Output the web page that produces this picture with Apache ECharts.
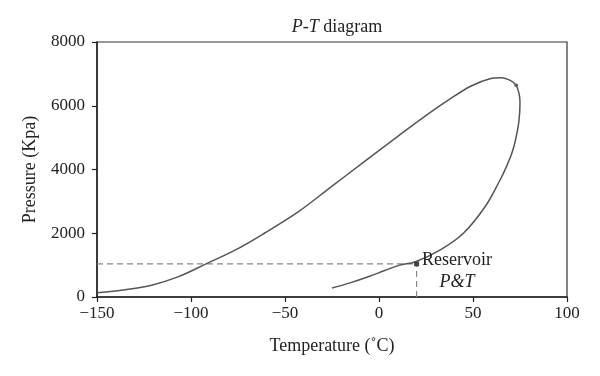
<!DOCTYPE html>
<html>
<head>
<meta charset="utf-8">
<script src="https://cdn.jsdelivr.net/npm/echarts@6/dist/echarts.min.js"></script>
<style>
  html, body { margin: 0; padding: 0; background: #fff; }
  #chart { width: 600px; height: 376px; }
</style>
</head>
<body>
<div id="chart"></div>
<script>
// bubble point branch (from low T up to the critical point)
var bubbleT = [-150, -135, -121, -107, -92, -75, -61, -43, -26, -8, 10, 24, 38, 49, 59, 65, 70, 73];
var bubbleP = [130, 230, 370, 630, 1040, 1520, 2000, 2670, 3430, 4240, 5040, 5650, 6220, 6620, 6850, 6880, 6790, 6640];
// dew point branch (from the critical point down)
var dewT = [73, 74.6, 75, 74.4, 72.5, 70.6, 67.5, 64.4, 56.4, 44.9, 32.4, 19.1, 11, 3, -5, -15, -25];
var dewP = [6640, 6350, 6100, 5500, 4900, 4500, 4050, 3670, 2830, 2000, 1470, 1100, 1000, 830, 650, 450, 280];
var criticalPoint = [73, 6640];
var reservoir = [20, 1040];
var xTicks = [-150, -100, -50, 0, 50, 100];
var yTicks = [0, 2000, 4000, 6000, 8000];

var font = 'Liberation Serif';
var chartDom = document.getElementById('chart');
var chart = echarts.init(chartDom);

function pairs(xs, ys) {
    var out = [];
    for (var i = 0; i < xs.length; i++) {
        out.push([xs[i], ys[i]]);
    }
    return out;
}

var envelope = pairs(bubbleT, bubbleP).concat(pairs(dewT, dewP).slice(1));

var option = {
    animation: false,
    title: {
        text: '{i|P-T} diagram',
        left: 332,
        textAlign: 'center',
        top: 13,
        textStyle: {
            fontFamily: font,
            fontSize: 18,
            fontWeight: 'normal',
            color: '#222',
            rich: {
                i: { fontFamily: font, fontSize: 18, fontStyle: 'italic', color: '#222' }
            }
        }
    },
    grid: {
        left: 97,
        right: 33,
        top: 42,
        bottom: 79,
        show: true,
        borderColor: '#333',
        borderWidth: 1.2
    },
    xAxis: {
        type: 'value',
        min: xTicks[0],
        max: xTicks[xTicks.length - 1],
        interval: 50,
        name: 'Temperature (˚C)',
        nameLocation: 'middle',
        nameGap: 40,
        nameTextStyle: { fontFamily: font, fontSize: 18, color: '#222' },
        axisLine: { onZero: false, lineStyle: { color: '#222', width: 1.5 } },
        axisTick: { show: true, length: 5, lineStyle: { color: '#222', width: 1.2 } },
        axisLabel: {
            fontFamily: font, fontSize: 17, color: '#222', margin: 8,
            formatter: function (v) { return v < 0 ? '\u2212' + Math.abs(v) : String(v); }
        },
        splitLine: { show: false }
    },
    yAxis: {
        type: 'value',
        min: yTicks[0],
        max: yTicks[yTicks.length - 1],
        interval: 2000,
        name: 'Pressure (Kpa)',
        nameLocation: 'middle',
        nameGap: 58,
        nameTextStyle: { fontFamily: font, fontSize: 18, color: '#222' },
        axisLine: { show: true, onZero: false, lineStyle: { color: '#222', width: 1.5 } },
        axisTick: { show: true, length: 5, lineStyle: { color: '#222', width: 1.2 } },
        axisLabel: {
            fontFamily: font, fontSize: 17, color: '#222', margin: 12,
            formatter: function (v) { return String(v); }
        },
        splitLine: { show: false }
    },
    series: [
        {
            name: 'guide-h',
            type: 'line',
            data: [[xTicks[0], reservoir[1]], reservoir],
            symbol: 'none',
            lineStyle: { color: '#888', width: 1.2, type: [6, 4] },
            z: 1
        },
        {
            name: 'guide-v',
            type: 'line',
            data: [[reservoir[0], 0], reservoir],
            symbol: 'none',
            lineStyle: { color: '#888', width: 1.2, type: [6, 4] },
            z: 1
        },
        {
            name: 'envelope',
            type: 'line',
            data: envelope,
            smooth: 0.35,
            symbol: 'none',
            lineStyle: { color: '#555', width: 1.5 },
            z: 2
        },
        {
            name: 'critical',
            type: 'scatter',
            data: [criticalPoint],
            symbol: 'circle',
            symbolSize: 3.5,
            itemStyle: { color: '#555', opacity: 1 },
            z: 3
        },
        {
            name: 'reservoir',
            type: 'scatter',
            data: [reservoir],
            symbol: 'rect',
            symbolSize: 5,
            itemStyle: { color: '#444', opacity: 1 },
            label: {
                show: true,
                position: 'right',
                distance: 3,
                offset: [0, 7],
                color: '#222',
                textBorderWidth: 0,
                formatter: '{a|Reservoir}\n{b|P&T}',
                rich: {
                    a: { fontFamily: font, fontSize: 18, color: '#222', align: 'center', lineHeight: 22 },
                    b: { fontFamily: font, fontSize: 18, fontStyle: 'italic', color: '#222', align: 'center', lineHeight: 22 }
                }
            },
            z: 3
        }
    ]
};

chart.setOption(option);
</script>
</body>
</html>
